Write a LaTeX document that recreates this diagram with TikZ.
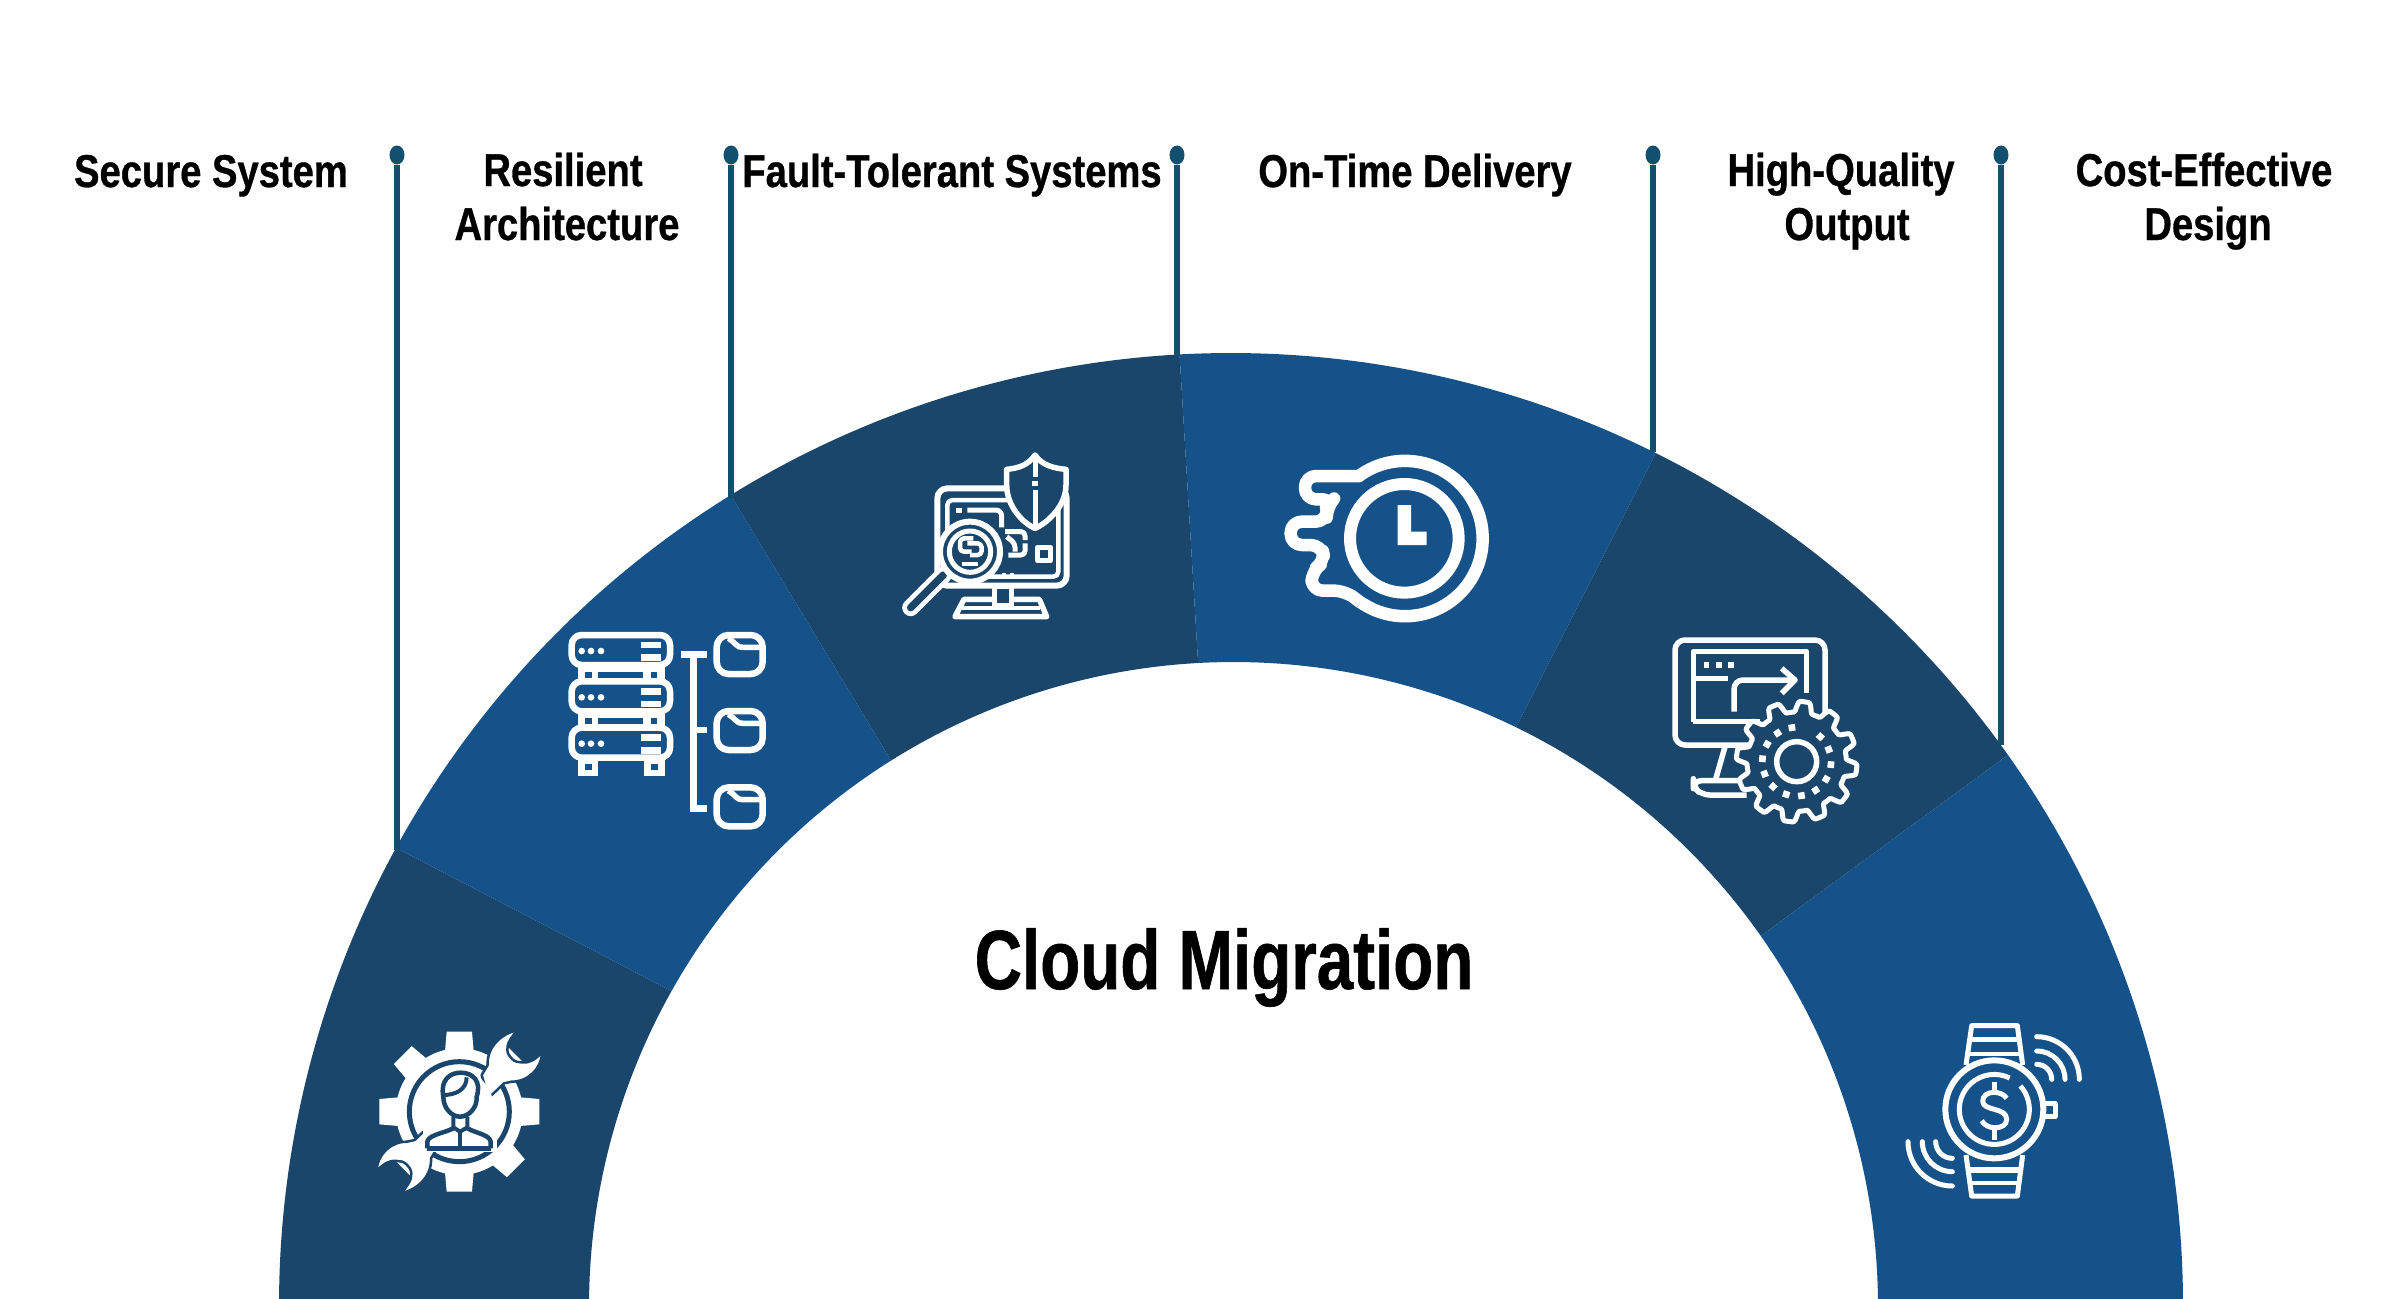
\documentclass[tikz,border=0pt]{standalone}
\usepackage{fontspec}
\usetikzlibrary{shapes.geometric}
\newfontfamily\labfont[FakeStretch=0.83,BoldFeatures={FakeBold=0.7}]{Liberation Sans}
\newfontfamily\titfont[FakeStretch=0.78,BoldFeatures={FakeBold=0.7}]{Liberation Sans}
\definecolor{dk}{HTML}{1A466B}
\definecolor{lt}{HTML}{15528A}
\definecolor{ld}{HTML}{11506F}
\definecolor{bgc}{HTML}{FEFEFE}
\tikzset{
 leader/.style={draw=ld,line width=6pt},
 pindot/.style={ellipse,fill=ld,inner sep=0pt,minimum width=15pt,minimum height=19pt},
 lab/.style={font=\labfont\bfseries\fontsize{46}{54}\selectfont,align=center,text=black,inner sep=0pt,anchor=base},
 title/.style={font=\titfont\bfseries\fontsize{84}{90}\selectfont,text=black,inner sep=0pt,anchor=base},
 ic/.style={x=0.33333pt,y=-0.33333pt,line cap=butt,line join=round},
}
% outer angle a, outer angle b, inner angle b, inner angle a
\newcommand{\seg}[5]{\fill[#5] ({1231+952*cos(#1)},{1305-952*sin(#1)}) arc[start angle={-(#1)},end angle={-(#2)},radius=952] -- ({1233.5+644.5*cos(#3)},{1306.5-644.5*sin(#3)}) arc[start angle={-(#3)},end angle={-(#4)},radius=644.5] -- cycle;}
\begin{document}
\begin{tikzpicture}[x=1pt,y=-1pt]
\useasboundingbox (0,0) rectangle (2400,1298);
\clip (0,0) rectangle (2400,1298);
\fill[bgc] (0,0) rectangle (2400,1298);
% ring
\seg{195}{151.3}{150.7}{195}{dk}
\seg{151.3}{121.7}{122.1}{150.7}{lt}
\seg{121.7}{93.1}{93.15}{122.1}{dk}
\seg{93.1}{63.5}{64}{93.15}{lt}
\seg{63.5}{35.3}{35.1}{64}{dk}
\seg{35.3}{-15}{-15}{35.1}{lt}
% leaders
\foreach \n/\x/\y in {1/397/850,2/731/499,3/1177/356,4/1653/452,5/2001/745}{
 \node[pindot] (d\n) at (\x,155) {};
 \coordinate (e\n) at (\x,\y);
 \draw[leader] (d\n) -- (e\n);
}
% labels
\node[lab] (t1) at (211,187) {Secure System};
\node[lab] (t2) at (567,240) {Resilient\kern8pt\\Architecture};
\node[lab] (t3) at (952,187) {Fault-Tolerant Systems};
\node[lab] (t4) at (1415,187) {On-Time Delivery};
\node[lab] (t5) at (1841,240) {High-Quality\kern0pt\\Output\kern-12pt};
\node[lab] (t6) at (2204,240) {Cost-Effective\\Design\kern-8pt};
\node[title] (c) at (1224,989) {Cloud Migration};

% ---- icon 1
\begin{scope}[shift={(340,1000)},ic]
 \fill[white] (358,335) circle[radius=190];
 \foreach \a in {0,45,...,315}{
  \fill[white,rotate around={\a:(358,335)}] (320,95) -- (396,95) -- (405,200) -- (311,200) -- cycle;
 }
 \draw[dk,line width=5pt] (358,335) circle[radius=150];
 % wrench halves
 \filldraw[fill=white,draw=dk,line width=2.5pt]
  (534,90) .. controls (485,100) and (440,140) .. (443,195) -- (425,225) -- (445,295) -- (492,250)
  -- (515,245) .. controls (565,245) and (605,205) .. (606,158) .. controls (585,178) and (570,190) .. (545,187)
  .. controls (525,190) and (503,170) .. (502,150) .. controls (500,130) and (515,110) .. cycle;
 \filldraw[fill=white,draw=dk,line width=2.5pt]
  (182,580) .. controls (231,570) and (276,530) .. (273,475) -- (291,445) -- (271,375) -- (224,420)
  -- (201,425) .. controls (151,425) and (111,465) .. (110,512) .. controls (131,492) and (146,480) .. (171,483)
  .. controls (191,480) and (213,500) .. (214,520) .. controls (216,540) and (201,560) .. cycle;
 % person
 \fill[white] (358,335) ellipse[x radius=105,y radius=125];
 \fill[white] (250,350) rectangle (470,455);
 \draw[dk,line width=4.5pt,line join=round]
  (310,290) .. controls (300,240) and (330,218) .. (362,218) .. controls (400,218) and (425,245) .. (410,290)
  .. controls (412,325) and (385,350) .. (360,350) .. controls (335,350) and (310,325) .. (310,290);
 \draw[dk,line width=4pt] (310,285) .. controls (345,285) and (380,270) .. (380,232);
 \draw[dk,line width=4pt] (340,350) -- (340,382) -- (360,395) -- (382,382) -- (382,350);
 \draw[dk,line width=4.5pt,line join=round] (262,445) -- (262,425) .. controls (265,405) and (310,400) .. (340,385);
 \draw[dk,line width=4.5pt,line join=round] (452,445) -- (452,425) .. controls (450,405) and (410,400) .. (382,385);
 \draw[dk,line width=4.5pt] (262,445) -- (452,445);
 \draw[dk,line width=4pt] (360,395) -- (360,445);
\end{scope}

% ---- icon 2
\begin{scope}[shift={(550,610)},ic]
 \foreach \d in {0,139,278}{
  \draw[white,line width=6.5pt,rounded corners=10pt,fill=lt] (65,75+\d) rectangle (360,165+\d);
  \foreach \xx in {95,123,153}{\fill[white] (\xx,123+\d) circle[radius=10];}
  \fill[white] (273,95+\d) rectangle (333,115+\d);
  \fill[white] (273,133+\d) rectangle (333,153+\d);
 }
 \foreach \d in {0,139}{
  \fill[white] (85,172+\d) rectangle (345,218+\d);
  \fill[lt] (105,185+\d) rectangle (125,203+\d);
  \fill[lt] (145,185+\d) rectangle (280,203+\d);
  \fill[lt] (302,185+\d) rectangle (322,203+\d);
 }
 \fill[white] (85,450) rectangle (145,497);
 \fill[white] (283,450) rectangle (345,497);
 \fill[lt] (106,463) rectangle (125,480);
 \fill[lt] (303,463) rectangle (323,480);
 \fill[white] (392,123) rectangle (470,143);
 \fill[white] (420,123) rectangle (442,607);
 \fill[white] (420,350) rectangle (470,370);
 \fill[white] (420,585) rectangle (470,607);
 \foreach \d in {0,228,457}{
  \draw[white,line width=6.5pt,rounded corners=12pt] (500,75+\d) rectangle (638,192+\d);
  \draw[white,line width=5.5pt] (535,85+\d) .. controls (555,95+\d) and (560,115+\d) .. (580,112+\d) -- (632,112+\d);
 }
\end{scope}

% ---- icon 3
\begin{scope}[shift={(890,440)},ic]
 \draw[white,line width=6pt,rounded corners=10pt] (142,145) -- (530,145) -- (530,437) -- (142,437) -- cycle;
 \draw[white,line width=4.5pt,rounded corners=5pt] (172,180) rectangle (505,410);
 \draw[white,line width=5.5pt,line join=round,fill=dk] (222,478) -- (448,478) -- (470,530) -- (195,530) -- cycle;
 \draw[white,line width=4pt] (215,505) -- (450,505);
 \filldraw[fill=dk,draw=white,line width=5pt] (312,440) rectangle (365,495);
 \fill[white] (198,204) rectangle (215,220);
 \draw[white,line width=5pt,rounded corners=6pt] (232,210) -- (335,210) -- (335,262);
 \draw[white,line width=5pt,rounded corners=4pt] (345,275) -- (405,275) -- (405,300);
 \draw[white,line width=5pt,rounded corners=4pt] (350,290) -- (375,310) -- (375,335);
 \draw[white,line width=5pt,rounded corners=4pt] (405,310) -- (405,345) -- (355,345);
 \draw[white,line width=5pt] (442,322) rectangle (482,362);
 \fill[white] (335,398) rectangle (348,412);
 \fill[white] (360,398) rectangle (373,412);
 % shield
 \filldraw[fill=dk,draw=white,line width=5.5pt,line join=round]
  (435,45) .. controls (415,75) and (385,85) .. (350,88) -- (350,135) .. controls (350,200) and (400,250) .. (435,265)
  .. controls (470,250) and (528,200) .. (528,135) -- (528,88) .. controls (490,85) and (455,75) .. cycle;
 \draw[white,line width=5pt] (435,55) -- (435,110);
 \fill[white] (427,122) rectangle (443,138);
 \draw[white,line width=5pt] (435,150) -- (435,258);
 % handle
 \draw[white,line width=17pt,line cap=round] (160,405) -- (62,503);
 \draw[dk,line width=7.5pt,line cap=round] (160,405) -- (62,503);
 % glass
 \filldraw[fill=dk,draw=white,line width=6pt] (240,335) circle[radius=90];
 \draw[white,line width=5pt] (240,335) circle[radius=62];
 \draw[white,line width=4.5pt,rounded corners=4pt] (250,295) -- (210,295) -- (210,335) -- (245,335);
 \draw[white,line width=4.5pt,rounded corners=4pt] (232,310) -- (275,310) -- (275,345) -- (240,345);
 \draw[white,line width=4.5pt] (215,372) -- (265,372);
\end{scope}

% ---- icon 4
\begin{scope}[shift={(1270,440)},ic]
 \draw[white,line width=12.5pt,line join=round,rounded corners=11pt]
  (270,108) -- (105,108) -- (105,178) -- (190,178) -- (170,200) -- (170,245) -- (62,245) -- (62,315) -- (155,315) -- (165,365) -- (125,392) -- (125,452) -- (225,452) -- (271,487);
 \draw[white,line width=12.5pt] (261.5,112) arc[start angle=232,end angle=485,radius=233];
 \draw[white,line width=12pt] (403,295) circle[radius=163];
 \fill[white] (383,195) -- (423,195) -- (423,275) -- (470,275) -- (470,315) -- (383,315) -- cycle;
\end{scope}

% ---- icon 5
\begin{scope}[shift={(1660,620)},ic]
 \draw[white,line width=5.5pt,rounded corners=10pt] (45,60) rectangle (495,375);
 \draw[white,line width=5.5pt] (100,305) -- (100,95) -- (440,95) -- (440,220);
 \draw[white,line width=5.5pt] (100,305) -- (300,305);
 \draw[white,line width=5.5pt] (100,175) -- (205,175);
 \foreach \xx in {140,177,213}{\fill[white] (\xx-8,127) rectangle (\xx+8,143);}
 \draw[white,line width=5.5pt,rounded corners=9pt] (222,275) -- (222,180) -- (400,180);
 \draw[white,line width=5.5pt] (365,145) -- (405,180) -- (365,220);
 \draw[white,line width=5.5pt] (195,380) -- (165,485);
 \draw[white,line width=5.5pt,rounded corners=8pt] (260,482) -- (100,482) -- (100,500) -- (125,525) -- (260,525);
 \filldraw[fill=dk,draw=white,line width=5pt,line join=round] plot[domain=0:360,samples=241,variable=\t]
  ({410+(165+16*max(-1,min(1,2.2*sin(12*\t))))*cos(\t)},{425+(165+16*max(-1,min(1,2.2*sin(12*\t))))*sin(\t)}) -- cycle;
 \draw[white,line width=5.5pt] (410,425) circle[radius=60];
 \foreach \a in {0,25.71,...,334}{
  \fill[white,rotate around={\a+8:(410,425)}] (400,312) rectangle (420,332);
 }
\end{scope}

% ---- icon 6
\begin{scope}[shift={(1890,1010)},ic]
 \draw[white,line width=5pt] (228,165) -- (245,47) -- (382,47) -- (398,165);
 \fill[white] (236,80) rectangle (390,97);
 \fill[white] (232,125) rectangle (394,137);
 \draw[white,line width=5pt] (228,435) -- (245,558) -- (382,558) -- (398,435);
 \fill[white] (236,470) rectangle (390,490);
 \fill[white] (240,512) rectangle (388,524);
 \draw[white,line width=5pt] (465,280) -- (495,280) -- (495,320) -- (465,320);
 \filldraw[fill=lt,draw=white,line width=6pt] (313,298) circle[radius=147];
 \draw[white,line width=5pt] (391,228) arc[start angle=-42,end angle=296,radius=105];
 \draw[white,line width=5pt] (350,265) .. controls (335,240) and (280,240) .. (278,272) .. controls (276,305) and (350,290) .. (350,328) .. controls (350,360) and (290,362) .. (275,332);
 \draw[white,line width=5pt] (313,215) -- (313,245);
 \draw[white,line width=5pt] (313,358) -- (313,390);
 \foreach \r in {45,85,128}{
  \draw[white,line width=5pt,line cap=round] (440,208-\r) arc[start angle=-90,end angle=0,radius=\r];
  \draw[white,line width=5pt,line cap=round] (187,395+\r+5) arc[start angle=90,end angle=180,radius=\r+5];
 }
\end{scope}
\end{tikzpicture}
\end{document}
